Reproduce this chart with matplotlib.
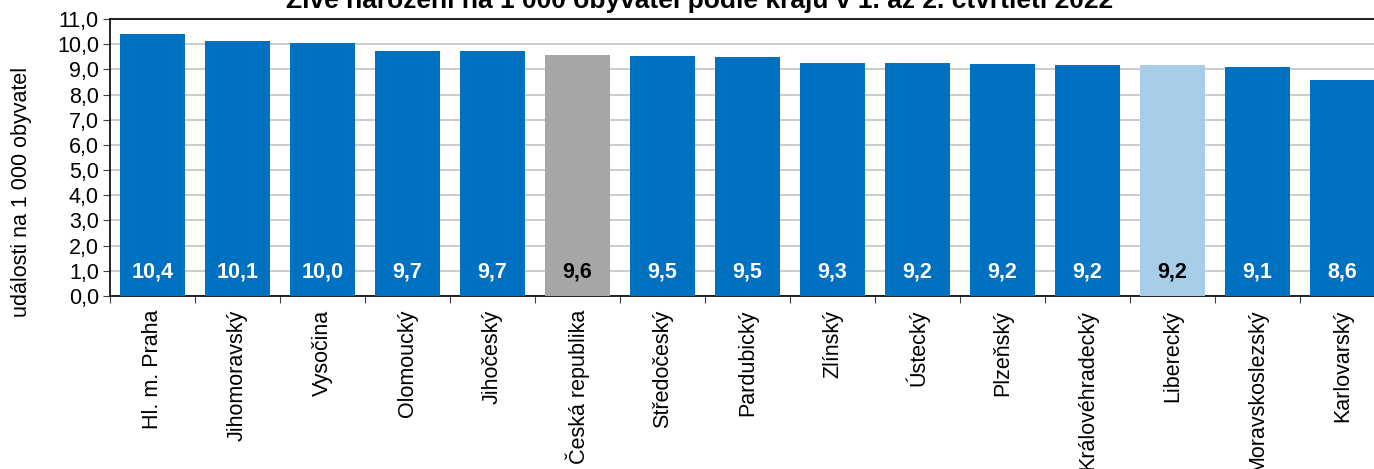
import matplotlib.pyplot as plt

# --- live births per 1 000 inhabitants by region ---
regions = ['Hl. m. Praha', 'Jihomoravský', 'Vysočina', 'Olomoucký', 'Jihočeský',
           'Česká republika', 'Středočeský', 'Pardubický', 'Zlínský', 'Ústecký',
           'Plzeňský', 'Královéhradecký', 'Liberecký', 'Moravskoslezský', 'Karlovarský']
values = [10.41, 10.12, 10.04, 9.74, 9.72, 9.59, 9.53, 9.50, 9.27, 9.24,
          9.20, 9.18, 9.16, 9.11, 8.56]
highlight = {'Česká republika': '#a6a6a6', 'Liberecký': '#a7cde8'}

plt.rcParams['font.family'] = ['Liberation Sans', 'DejaVu Sans']

W, H = 1374, 469
fig = plt.figure(figsize=(W / 100, H / 100), dpi=100)
ax = fig.add_axes([110 / W, 1 - 296 / H, 1275 / W, 277 / H])

colors = [highlight.get(r, '#0070c0') for r in regions]
x = list(range(len(regions)))
ax.bar(x, values, width=0.77, color=colors, edgecolor='none', zorder=3)

for i, (r, v) in enumerate(zip(regions, values)):
    tc = 'black' if r in highlight else 'white'
    ax.text(i, 0.95, f"{v:.1f}".replace('.', ','), ha='center', va='center',
            color=tc, fontsize=15.5, fontweight='bold', zorder=4)

ax.set_xlim(-0.5, len(regions) - 0.5)
ax.set_ylim(0, 11)
ax.set_yticks([i for i in range(12)])
ax.set_yticklabels([f"{i},0" for i in range(12)], fontsize=15.5)
ax.yaxis.grid(True, color='#c4c4c4', linewidth=1.2, zorder=0)

ax.set_xticks([i + 0.5 for i in range(-1, len(regions))])
ax.set_xticklabels([])
ax.tick_params(axis='x', direction='out', length=5, color='#404040')
ax.tick_params(axis='y', direction='out', length=5, color='#404040', pad=3)
for i, r in enumerate(regions):
    ax.text(i, -0.55, r, rotation=90, ha='center', va='top', fontsize=15.5)

for s in ['left', 'bottom', 'top']:
    ax.spines[s].set_color('black')
    ax.spines[s].set_linewidth(1.2)
ax.spines['right'].set_visible(False)

fig.text(22 / W, 1 - 192 / H, 'události na 1 000 obyvatel', rotation=90,
         ha='center', va='center', fontsize=15.5)
fig.text(700 / W, 1 - 8 / H,
         'Živě narození na 1 000 obyvatel podle krajů v 1. až 2. čtvrtletí 2022',
         ha='center', va='baseline', fontsize=19, fontweight='bold')

fig.savefig('out.png', dpi=100)
